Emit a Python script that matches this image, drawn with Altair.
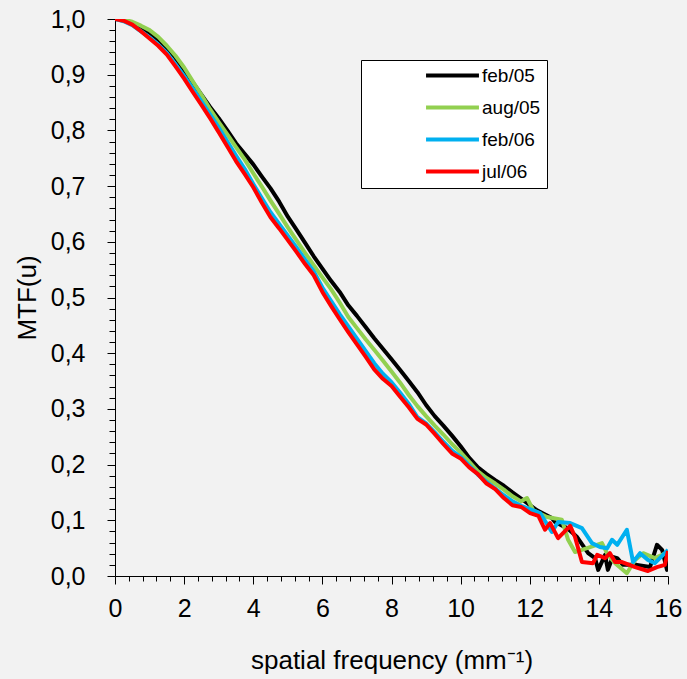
import altair as alt
import pandas as pd

SERIES = ["feb/05", "aug/05", "feb/06", "jul/06"]
COLORS = ["#000000", "#92d050", "#00b0f0", "#ff0000"]

BODY_FREQ = [0.0, 0.25, 0.5, 0.75, 1.0, 1.25, 1.5, 1.75, 2.0, 2.25, 2.5, 2.75,
             3.0, 3.25, 3.5, 3.75, 4.0, 4.25, 4.5, 4.75, 5.0, 5.25, 5.5, 5.75,
             6.0, 6.25, 6.5, 6.75, 7.0, 7.25, 7.5, 7.75, 8.0, 8.25, 8.5, 8.75,
             9.0, 9.25, 9.5, 9.75, 10.0, 10.25, 10.5, 10.75, 11.0, 11.25, 11.5, 11.75]

FEB05_BODY = [1.000, 0.998, 0.993, 0.985, 0.975, 0.963, 0.948, 0.930, 0.908, 0.886, 0.864, 0.842,
              0.822, 0.800, 0.777, 0.758, 0.739, 0.717, 0.696, 0.672, 0.645, 0.622, 0.598, 0.574,
              0.552, 0.530, 0.510, 0.486, 0.467, 0.447, 0.427, 0.408, 0.389, 0.370, 0.350, 0.330,
              0.307, 0.287, 0.270, 0.252, 0.233, 0.212, 0.195, 0.183, 0.172, 0.162, 0.150, 0.139]
FEB05_TAIL_FREQ = [12.21, 12.64, 12.73, 13.08, 13.37, 13.69, 13.89, 13.98, 14.18, 14.26, 14.40,
                   14.53, 14.70, 15.10, 15.48, 15.68, 15.83, 15.97, 16.0]
FEB05_TAIL = [0.118, 0.104, 0.097, 0.086, 0.070, 0.041, 0.032, 0.011, 0.038, 0.011, 0.034,
              0.032, 0.020, 0.020, 0.016, 0.056, 0.047, 0.011, 0.045]

AUG05_BODY = [1.000, 0.999, 0.995, 0.988, 0.980, 0.968, 0.952, 0.934, 0.913, 0.888, 0.864, 0.838,
              0.815, 0.793, 0.770, 0.748, 0.723, 0.699, 0.674, 0.650, 0.626, 0.603, 0.580, 0.558,
              0.536, 0.515, 0.491, 0.465, 0.445, 0.425, 0.406, 0.387, 0.367, 0.347, 0.325, 0.305,
              0.287, 0.270, 0.254, 0.237, 0.222, 0.205, 0.188, 0.176, 0.166, 0.155, 0.143, 0.134]
AUG05_TAIL_FREQ = [11.92, 12.10, 12.50, 12.93, 13.11, 13.31, 13.66, 14.09, 14.26, 14.47, 14.81,
                   15.05, 15.28, 15.62, 16.0]
AUG05_TAIL = [0.140, 0.118, 0.106, 0.101, 0.065, 0.043, 0.050, 0.059, 0.038, 0.023, 0.005,
              0.029, 0.041, 0.032, 0.043]

FEB06_BODY = [1.000, 0.996, 0.989, 0.978, 0.967, 0.954, 0.939, 0.919, 0.898, 0.875, 0.852, 0.829,
              0.805, 0.780, 0.755, 0.731, 0.704, 0.678, 0.653, 0.632, 0.611, 0.590, 0.568, 0.547,
              0.518, 0.494, 0.470, 0.448, 0.426, 0.404, 0.382, 0.363, 0.348, 0.329, 0.309, 0.285,
              0.274, 0.258, 0.241, 0.225, 0.214, 0.198, 0.182, 0.169, 0.157, 0.145, 0.134, 0.126]
FEB06_TAIL_FREQ = [12.30, 12.64, 12.82, 13.17, 13.51, 13.80, 14.03, 14.24, 14.38, 14.53, 14.81,
                   14.99, 15.19, 15.42, 15.62, 16.0]
FEB06_TAIL = [0.113, 0.079, 0.097, 0.095, 0.086, 0.059, 0.052, 0.050, 0.065, 0.056, 0.083,
              0.025, 0.041, 0.029, 0.023, 0.047]

JUL06_BODY = [1.000, 0.997, 0.990, 0.978, 0.965, 0.952, 0.936, 0.915, 0.893, 0.869, 0.846, 0.822,
              0.797, 0.771, 0.745, 0.722, 0.698, 0.670, 0.644, 0.624, 0.603, 0.582, 0.560, 0.540,
              0.510, 0.485, 0.461, 0.438, 0.416, 0.394, 0.371, 0.354, 0.341, 0.322, 0.303, 0.282,
              0.272, 0.255, 0.237, 0.220, 0.211, 0.195, 0.183, 0.166, 0.156, 0.140, 0.127, 0.124]
JUL06_TAIL_FREQ = [12.01, 12.25, 12.44, 12.59, 12.82, 13.17, 13.31, 13.51, 13.83, 13.95, 14.18,
                   14.32, 14.47, 14.67, 15.05, 15.42, 15.68, 15.91, 16.0]
JUL06_TAIL = [0.113, 0.108, 0.083, 0.095, 0.068, 0.090, 0.070, 0.025, 0.023, 0.038, 0.032,
              0.041, 0.025, 0.025, 0.016, 0.009, 0.016, 0.020, 0.045]

Y_TICKS = [0.0, 0.02, 0.04, 0.06, 0.08, 0.1, 0.12, 0.14, 0.16, 0.18, 0.2, 0.22, 0.24, 0.26,
           0.28, 0.3, 0.32, 0.34, 0.36, 0.38, 0.4, 0.42, 0.44, 0.46, 0.48, 0.5, 0.52, 0.54,
           0.56, 0.58, 0.6, 0.62, 0.64, 0.66, 0.68, 0.7, 0.72, 0.74, 0.76, 0.78, 0.8, 0.82,
           0.84, 0.86, 0.88, 0.9, 0.92, 0.94, 0.96, 0.98, 1.0]
X_TICKS = [0.0, 0.4, 0.8, 1.2, 1.6, 2.0, 2.4, 2.8, 3.2, 3.6, 4.0, 4.4, 4.8, 5.2, 5.6, 6.0,
           6.4, 6.8, 7.2, 7.6, 8.0, 8.4, 8.8, 9.2, 9.6, 10.0, 10.4, 10.8, 11.2, 11.6, 12.0,
           12.4, 12.8, 13.2, 13.6, 14.0, 14.4, 14.8, 15.2, 15.6, 16.0]

rows = []
for name, body, tf, tv in [
    ("feb/05", FEB05_BODY, FEB05_TAIL_FREQ, FEB05_TAIL),
    ("aug/05", AUG05_BODY, AUG05_TAIL_FREQ, AUG05_TAIL),
    ("feb/06", FEB06_BODY, FEB06_TAIL_FREQ, FEB06_TAIL),
    ("jul/06", JUL06_BODY, JUL06_TAIL_FREQ, JUL06_TAIL),
]:
    for f, v in zip(BODY_FREQ + tf, body + tv):
        rows.append({"series": name, "freq": f, "mtf": v})
df = pd.DataFrame(rows)

FONT = "Liberation Sans"
y_major = "abs(datum.value*10 - round(datum.value*10)) < 0.001"
x_major = "abs(datum.value/2 - round(datum.value/2)) < 0.001"

chart = alt.Chart(df).mark_line(strokeWidth=4, strokeJoin="round", clip=True).encode(
    x=alt.X("freq:Q",
            scale=alt.Scale(domain=[0, 16], nice=False, zero=False),
            axis=alt.Axis(values=X_TICKS, title="spatial frequency (mm⁻¹)",
                          labelExpr=f"{x_major} ? format(datum.value, 'd') : ''",
                          tickSize={"condition": {"test": x_major, "value": 8}, "value": 5},
                          labelPadding=12, titlePadding=26)),
    y=alt.Y("mtf:Q",
            scale=alt.Scale(domain=[0, 1], nice=False),
            axis=alt.Axis(values=Y_TICKS, title="MTF(u)",
                          labelExpr=f"{y_major} ? replace(format(datum.value, '.1f'), '.', ',') : ''",
                          tickSize={"condition": {"test": y_major, "value": 8}, "value": 6},
                          labelPadding=22, titlePadding=10)),
    color=alt.Color("series:N",
                    scale=alt.Scale(domain=SERIES, range=COLORS),
                    legend=alt.Legend(orient="none", legendX=246, legendY=41, title=None,
                                      fillColor="white", strokeColor="black", padding=6,
                                      symbolType="M-5,0L5,0", symbolSize=112,
                                      symbolStrokeWidth=4, symbolOffset=76, labelOffset=20,
                                      labelFont=FONT, labelFontSize=19, labelColor="black",
                                      rowPadding=12)),
).properties(
    width=553, height=557,
    autosize=alt.AutoSizeParams(type="none"),
    padding={"left": 115, "top": 19, "right": 19, "bottom": 103},
    background="#f2f2f2",
).configure_view(stroke=None).configure_axis(
    grid=False, domainColor="black", tickColor="black", domainWidth=1, tickWidth=1,
    labelFont=FONT, labelFontSize=25, labelColor="black", labelOverlap=False,
    labelFlush=False, labelBound=False,
    titleFont=FONT, titleFontSize=26, titleFontWeight="normal", titleColor="black",
)

chart.save("out.html", embed_options={"renderer": "svg", "actions": False})
